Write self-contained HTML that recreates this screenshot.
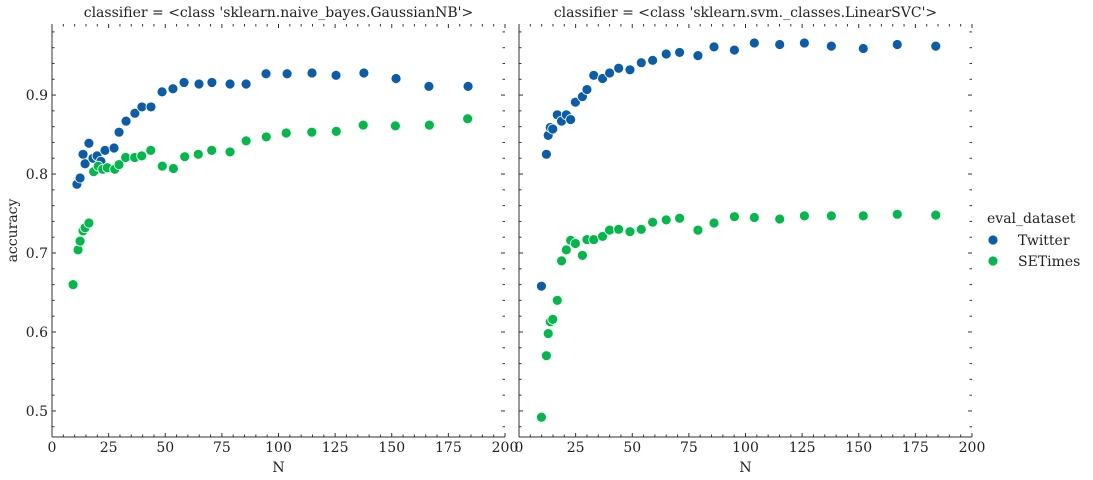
<!DOCTYPE html>
<html><head><meta charset="utf-8"><style>
body{margin:0;background:#fff}
svg{display:block;font-family:"DejaVu Serif","Liberation Serif",serif}
</style></head><body>
<svg id="chart" width="1093" height="480" viewBox="0 0 1093 480"></svg>
<script>
const nbNTwitter=[11.0,12.4,13.7,14.6,16.3,18.1,19.9,21.6,23.4,27.4,29.6,32.7,36.6,39.7,43.7,48.6,53.4,58.3,64.9,70.6,78.6,85.7,94.5,103.8,114.8,125.4,137.7,151.9,166.4,183.7];
const nbAccTwitter=[0.787,0.795,0.825,0.813,0.839,0.820,0.823,0.816,0.830,0.833,0.853,0.867,0.877,0.885,0.885,0.904,0.908,0.916,0.914,0.916,0.914,0.914,0.927,0.927,0.928,0.925,0.928,0.921,0.911,0.911];
const nbNSETimes=[9.3,11.5,12.4,13.7,14.6,16.3,18.4,20.4,22.4,24.4,27.7,29.6,32.5,36.5,39.6,43.6,48.7,53.6,58.6,64.6,70.5,78.6,85.7,94.6,103.4,114.7,125.5,137.4,151.6,166.6,183.5];
const nbAccSETimes=[0.660,0.704,0.715,0.728,0.732,0.738,0.803,0.810,0.806,0.808,0.806,0.812,0.821,0.821,0.823,0.830,0.810,0.807,0.822,0.825,0.830,0.828,0.842,0.847,0.852,0.853,0.854,0.862,0.861,0.862,0.870];
const svmN=[9.9,12.1,12.9,13.8,14.9,16.9,18.8,20.9,22.8,24.9,28.0,30.0,33.0,36.9,40.0,44.0,49.0,54.0,59.0,65.0,70.9,79.0,86.1,95.1,103.9,115.1,126.0,137.9,152.0,167.0,184.0];
const svmAccTwitter=[0.658,0.825,0.849,0.859,0.857,0.875,0.867,0.875,0.869,0.891,0.898,0.907,0.925,0.921,0.928,0.934,0.932,0.941,0.944,0.952,0.954,0.950,0.961,0.957,0.966,0.964,0.966,0.962,0.959,0.964,0.962];
const svmAccSETimes=[0.492,0.570,0.598,0.613,0.616,0.640,0.690,0.704,0.716,0.712,0.697,0.717,0.717,0.721,0.729,0.730,0.727,0.730,0.739,0.742,0.744,0.729,0.738,0.746,0.745,0.743,0.747,0.747,0.747,0.749,0.748];
const xTicks=[0,25,50,75,100,125,150,175,200];
const yTicks=[0.5,0.6,0.7,0.8,0.9];
const seriesNames=["Twitter","SETimes"];
const colors={Twitter:"#0c5da9",SETimes:"#00b94a"};

const svg=document.getElementById('chart');
const NS="http://www.w3.org/2000/svg";
function mk(tag,attrs,parent){const e=document.createElementNS(NS,tag);for(const k in attrs)e.setAttribute(k,attrs[k]);(parent||svg).appendChild(e);return e;}
const plotTop=24,plotBottom=437;
const yMin=0.467,yMax=0.99;
const FS=14;
function yS(v){return plotBottom-(v-yMin)/(yMax-yMin)*(plotBottom-plotTop);}
const panels=[
 {x0:52,x1:505,title:"classifier = <class 'sklearn.naive_bayes.GaussianNB'>",name:"gaussiannb-panel",
  series:[{s:"Twitter",n:nbNTwitter,a:nbAccTwitter},{s:"SETimes",n:nbNSETimes,a:nbAccSETimes}],ylabels:true},
 {x0:519,x1:972,title:"classifier = <class 'sklearn.svm._classes.LinearSVC'>",name:"linearsvc-panel",
  series:[{s:"Twitter",n:svmN,a:svmAccTwitter},{s:"SETimes",n:svmN,a:svmAccSETimes}],ylabels:false}
];
panels.forEach(p=>{
  const g=mk('g',{});
  
  
  const xS=v=>p.x0+v/200*(p.x1-p.x0);
  const t=mk('text',{x:(p.x0+p.x1)/2,y:17,'text-anchor':'middle','font-size':FS,fill:'#222'},g);
  t.textContent=p.title;
  
  
  mk('line',{x1:p.x0,y1:plotTop,x2:p.x0,y2:plotBottom,stroke:'#333','stroke-width':1},g);
  mk('line',{x1:p.x0,y1:plotBottom,x2:p.x1,y2:plotBottom,stroke:'#333','stroke-width':1},g);
  for(let v=0;v<=200;v+=5){
    const x=xS(v),maj=v%25===0,L=maj?4:2.5;
    mk('line',{x1:x,y1:plotBottom,x2:x,y2:plotBottom-L,stroke:'#333','stroke-width':1},g);
    mk('line',{x1:x,y1:plotTop,x2:x,y2:plotTop+L,stroke:'#333','stroke-width':1},g);
  }
  for(let i=25;i<=99;i++){
    const v=i/100; if(v<yMin||v>yMax) continue;
    if(i%2!==0 && i%10!==0) continue;
    const y=yS(v),maj=i%10===0,L=maj?4:2.5;
    mk('line',{x1:p.x0,y1:y,x2:p.x0+L,y2:y,stroke:'#333','stroke-width':1},g);
    mk('line',{x1:p.x1,y1:y,x2:p.x1-L,y2:y,stroke:'#333','stroke-width':1},g);
  }
  xTicks.forEach(v=>{
    const tx=mk('text',{x:xS(v),y:452,'text-anchor':'middle','font-size':FS,fill:'#222'},g);
    tx.textContent=v;
    
    
  });
  if(p.ylabels){
    yTicks.forEach(v=>{
      const ty=mk('text',{x:p.x0-4,y:yS(v)+5,'text-anchor':'end','font-size':FS,fill:'#222'},g);
      ty.textContent=v.toFixed(1);
      
      
    });
    const yl=mk('text',{x:17,y:(plotTop+plotBottom)/2,'text-anchor':'middle','font-size':FS,fill:'#222',transform:`rotate(-90 17 ${(plotTop+plotBottom)/2})`},g);
    yl.textContent='accuracy';
    
    
  }
  const xl=mk('text',{x:(p.x0+p.x1)/2,y:472,'text-anchor':'middle','font-size':FS,fill:'#222'},g);
  xl.textContent='N';
  
  
  p.series.forEach(se=>{
    se.n.forEach((n,i)=>{
      const c=mk('circle',{cx:xS(n),cy:yS(se.a[i]),r:5,fill:colors[se.s],stroke:'#fff','stroke-width':0.8},g);
      
      
    });
  });
});
const lg=mk('g',{});


const lt=mk('text',{x:987,y:223,'font-size':FS,fill:'#222'},lg);
lt.textContent='eval_dataset';


seriesNames.forEach((s,i)=>{
  const y=240+i*21;
  const c=mk('circle',{cx:993,cy:y,r:5,fill:colors[s],stroke:'#fff','stroke-width':0.8},lg);
  
  
  const t=mk('text',{x:1018,y:y+5,'font-size':FS,fill:'#222'},lg);
  t.textContent=s;
  
  
});
</script>
</body></html>
